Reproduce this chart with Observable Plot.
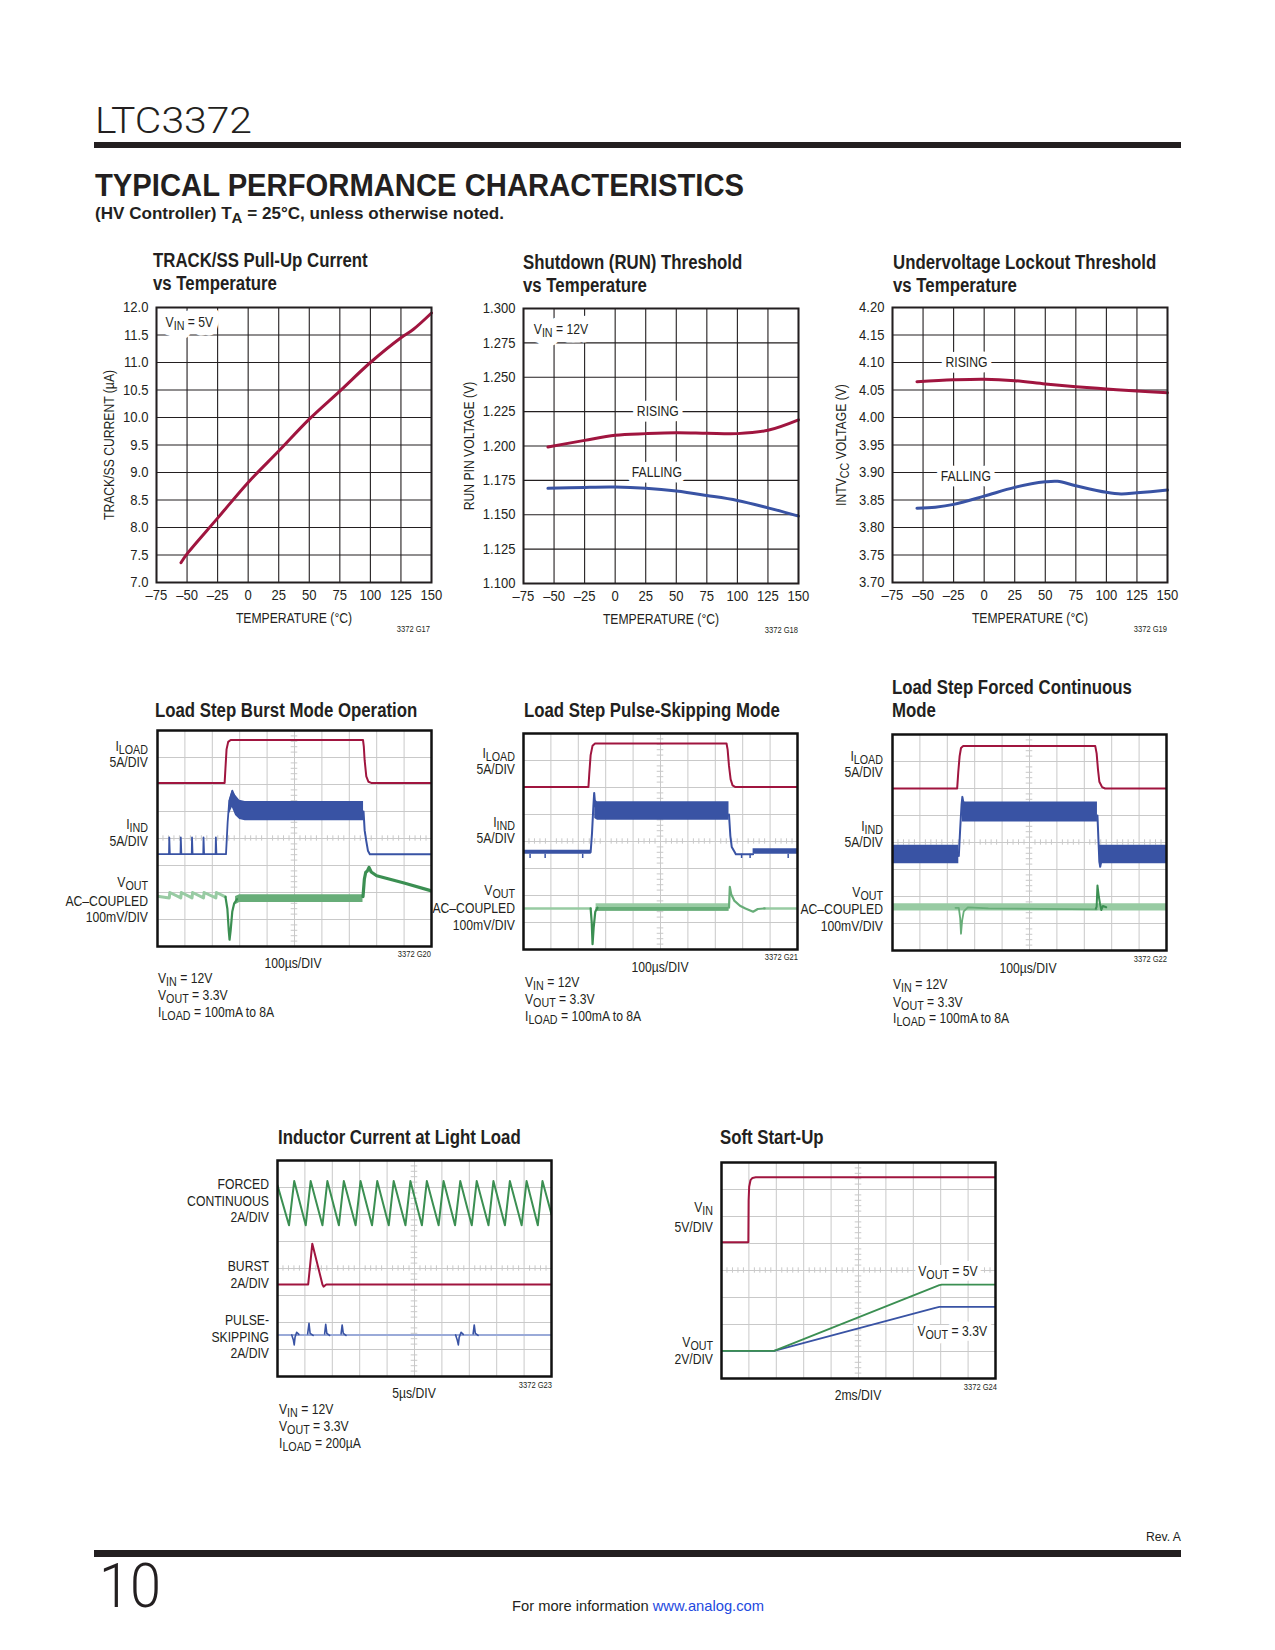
<!DOCTYPE html>
<html lang="en">
<head>
<meta charset="utf-8">
<title>LTC3372 Typical Performance Characteristics</title>
<script src="https://cdn.jsdelivr.net/npm/d3@7"></script>
<script src="https://cdn.jsdelivr.net/npm/@observablehq/plot@0.6"></script>
<style>
html,body{margin:0;padding:0;background:#fff;}
#page{position:relative;width:1275px;height:1650px;overflow:hidden;background:#fff;color:#231f20;font-family:"Liberation Sans Narrow","Liberation Sans",Arial,sans-serif;}
.t{position:absolute;white-space:nowrap;line-height:1;}
.rule{position:absolute;background:#231f20;}
.plotbox{position:absolute;}
.plotbox svg{display:block;max-width:none;background:transparent;overflow:visible;}
</style>
</head>
<body>
<div id="page"></div>
<script>
// ================= DATA =================
const tempTicks = [-75, -50, -25, 0, 25, 50, 75, 100, 125, 150];

// G17 TRACK/SS pull-up current vs temperature
const g17Ticks = [7.0, 7.5, 8.0, 8.5, 9.0, 9.5, 10.0, 10.5, 11.0, 11.5, 12.0];
const g17Temp = [-55, -50, -25, 0, 25, 50, 75, 100, 125, 135, 150];
const g17Current = [7.36, 7.52, 8.17, 8.82, 9.39, 9.97, 10.48, 11.0, 11.45, 11.6, 11.9];
const g17Corner = [{text: "V_IN = 5V", x: -67.6, y: 11.73}];

// G18 Shutdown (RUN) threshold vs temperature
const g18Ticks = [1.100, 1.125, 1.150, 1.175, 1.200, 1.225, 1.250, 1.275, 1.300];
const g18Temp = [-55, -25, 0, 25, 50, 75, 100, 125, 150];
const g18Rising = [1.1993, 1.2041, 1.2078, 1.2090, 1.2097, 1.2093, 1.2090, 1.2114, 1.2190];
const g18Falling = [1.1692, 1.1699, 1.1701, 1.1692, 1.1672, 1.1640, 1.1604, 1.1550, 1.1490];
const g18Corner = [{text: "V_IN = 12V", x: -66.6, y: 1.2852}];
const g18Labels = [{text: "RISING", x: 34.9, y: 1.225}, {text: "FALLING", x: 34.1, y: 1.181}];

// G19 Undervoltage lockout threshold vs temperature
const g19Ticks = [3.70, 3.75, 3.80, 3.85, 3.90, 3.95, 4.00, 4.05, 4.10, 4.15, 4.20];
const g19TempRising = [-55, -25, 0, 25, 50, 75, 100, 125, 150];
const g19Rising = [4.065, 4.0685, 4.0697, 4.067, 4.061, 4.056, 4.052, 4.048, 4.045];
const g19TempFalling = [-55, -40, -25, 0, 25, 50, 60, 75, 100, 112, 125, 150];
const g19Falling = [3.835, 3.837, 3.842, 3.857, 3.873, 3.883, 3.884, 3.876, 3.864, 3.861, 3.863, 3.868];
const g19Labels = [{text: "RISING", x: -14.5, y: 4.10}, {text: "FALLING", x: -15, y: 3.893}];

// Oscilloscope graticule (divisions)
const divX = [1, 2, 3, 4, 5, 6, 7, 8, 9];
const divY = [1, 2, 3, 4, 5, 6, 7];

// G20 Load step Burst Mode operation  [time div, level div]
const burstILoad = [[0,6.06],[2.45,6.06],[2.48,6.6],[2.52,7.3],[2.58,7.58],[2.67,7.65],[7.5,7.65],[7.53,7.4],[7.56,6.9],[7.62,6.3],[7.7,6.1],[7.8,6.06],[10,6.06]];
const burstIInd = [[0,3.42],[0.42,3.42],[0.43,4.04],[0.45,3.42],[0.84,3.42],[0.85,4.04],[0.87,3.42],[1.25,3.42],[1.26,4.04],[1.28,3.42],[1.67,3.42],[1.68,4.04],[1.7,3.42],[2.12,3.42],[2.13,4.04],[2.15,3.42],[2.5,3.42],[2.56,4.6],[2.62,5.4],[2.73,5.77],[2.8,5.6]];
const burstIIndBand = [[2.62,4.9,5.4],[2.73,5.15,5.77],[2.85,4.85,5.6],[3.0,4.7,5.42],[3.2,4.66,5.37],[7.52,4.66,5.37]];
const burstIIndFall = [[7.52,5.0],[7.56,4.3],[7.62,3.9],[7.68,3.55],[7.75,3.42],[10,3.42]];
const burstVoutRipple = [[0,1.86],[0.43,1.8],[0.45,2.0],[0.85,1.8],[0.87,2.0],[1.26,1.8],[1.28,2.0],[1.68,1.8],[1.7,2.0],[2.13,1.8],[2.15,2.0],[2.48,1.84]];
const burstVoutDip = [[2.48,1.84],[2.55,1.4],[2.6,0.6],[2.63,0.25],[2.67,0.6],[2.73,1.3],[2.8,1.6],[2.9,1.75]];
const burstVoutBand = [[2.85,1.55,1.85],[3.0,1.63,1.92],[7.5,1.63,1.92]];
const burstVoutStep = [[7.5,1.85],[7.55,2.5],[7.6,2.75],[7.66,2.8],[7.72,2.93],[7.8,2.76],[8.0,2.62],[9.0,2.35],[10,2.06]];

// G21 Load step pulse-skipping mode
const psILoad = [[0,6.02],[2.37,6.02],[2.4,6.5],[2.45,7.2],[2.52,7.55],[2.61,7.63],[7.41,7.63],[7.45,7.4],[7.5,6.8],[7.56,6.3],[7.63,6.08],[7.72,6.02],[10,6.02]];
const psIIndBase = [[0,3.53,3.68],[2.47,3.53,3.68]];
const psIIndSpikes = [[0.24,3.53,3.37],[0.79,3.53,3.37],[2.16,3.53,3.37],[7.96,3.53,3.37],[8.27,3.53,3.37],[9.66,3.53,3.37]];
const psIIndEdge = [[2.45,3.6],[2.5,4.3],[2.55,5.3],[2.58,5.8],[2.62,5.3]];
const psIIndBand = [[2.6,4.85,5.55],[2.7,4.79,5.47],[7.5,4.79,5.47]];
const psIIndFall = [[7.5,5.0],[7.55,4.2],[7.6,3.8],[7.7,3.62],[7.75,3.53],[8.38,3.53]];
const psIIndBase2 = [[8.38,3.53,3.73],[10,3.53,3.73]];
const psVoutQuiet = [[0,1.52],[2.45,1.52]];
const psVoutQuiet2 = [[8.8,1.52],[10,1.52]];
const psVoutDip = [[2.45,1.52],[2.49,1.0],[2.52,0.2],[2.56,0.8],[2.62,1.4],[2.7,1.55]];
const psVoutBand = [[2.65,1.42,1.69],[7.5,1.42,1.69]];
const psVoutBandLow = [[2.65,1.42,1.56],[7.5,1.42,1.56]];
const psVoutSpike = [[7.5,1.55],[7.53,2.32],[7.58,2.05],[7.7,1.8],[7.9,1.62],[8.1,1.52],[8.38,1.4],[8.55,1.5],[8.8,1.52]];

// G22 Load step forced continuous mode
const fcILoad = [[0,6.0],[2.36,6.0],[2.4,6.6],[2.45,7.2],[2.5,7.5],[2.58,7.57],[7.4,7.57],[7.45,7.3],[7.5,6.7],[7.55,6.25],[7.65,6.05],[7.76,6.0],[10,6.0]];
const fcIIndBand1 = [[0,3.21,3.9],[2.42,3.21,3.9]];
const fcIIndEdge = [[2.42,3.5],[2.47,4.5],[2.52,5.4],[2.55,5.69],[2.6,5.4]];
const fcIIndBand2 = [[2.55,4.76,5.55],[2.65,4.76,5.5],[7.48,4.76,5.5]];
const fcIIndFall = [[7.48,5.0],[7.52,4.0],[7.55,3.3],[7.58,3.1],[7.62,3.3]];
const fcIIndBand3 = [[7.55,3.21,3.9],[10,3.21,3.9]];
const fcVoutBand = [[0,1.46,1.73],[10,1.46,1.73]];
const fcVoutDip = [[2.3,1.58],[2.42,1.58],[2.47,1.2],[2.5,0.62],[2.54,1.1],[2.6,1.45],[2.75,1.6],[3.5,1.56],[7.45,1.52]];
const fcVoutSpike = [[7.42,1.55],[7.45,1.62],[7.48,2.41],[7.53,2.0],[7.57,1.75],[7.62,1.5],[7.68,1.65],[7.8,1.6]];

// G23 Inductor current at light load
const lightForced = [[0,7.08],[0.42,5.6],[0.61,7.24],[1.03,5.6],[1.21,7.24],[1.64,5.6],[1.82,7.24],[2.24,5.6],[2.42,7.24],[2.85,5.6],[3.03,7.24],[3.45,5.6],[3.64,7.24],[4.06,5.6],[4.24,7.24],[4.67,5.6],[4.85,7.24],[5.27,5.6],[5.45,7.24],[5.88,5.6],[6.06,7.24],[6.48,5.6],[6.67,7.24],[7.09,5.6],[7.27,7.24],[7.7,5.6],[7.88,7.24],[8.3,5.6],[8.48,7.24],[8.91,5.6],[9.09,7.24],[9.5,5.6],[9.67,7.24],[10,6.0]];
const lightBurst = [[0,3.41],[1.12,3.41],[1.27,4.92],[1.64,3.41],[1.68,3.33],[1.78,3.41],[10,3.41]];
const lightSkipBase = [[0,1.54],[10,1.54]];
const lightSkipPulses = [
  ["a",0.52,1.54],["a",0.58,1.35],["a",0.61,1.17],["a",0.64,1.45],["a",0.7,1.64],["a",0.78,1.56],
  ["b",1.1,1.58],["b",1.15,1.97],["b",1.19,1.6],["b",1.3,1.52],
  ["c",1.72,1.58],["c",1.76,1.93],["c",1.8,1.6],["c",1.9,1.52],
  ["d",2.32,1.58],["d",2.36,1.91],["d",2.4,1.6],["d",2.5,1.52],
  ["e",6.5,1.54],["e",6.56,1.35],["e",6.6,1.17],["e",6.63,1.45],["e",6.7,1.64],["e",6.78,1.56],
  ["f",7.14,1.58],["f",7.18,1.91],["f",7.22,1.6],["f",7.32,1.52]
];

// G24 Soft start-up
const ssVin = [[0,5.05],[0.98,5.05],[0.99,6.6],[1.01,7.1],[1.06,7.35],[1.13,7.43],[1.25,7.45],[10,7.45]];
const ssVout5 = [[0,1.02],[1.92,1.02],[7.95,3.46],[8.05,3.48],[10,3.48]];
const ssVout33 = [[0,1.02],[1.92,1.02],[7.8,2.62],[7.95,2.65],[10,2.65]];
const ssLabels = [{text: "V_OUT = 5V", x: 7.18, y: 3.97}, {text: "V_OUT = 3.3V", x: 7.15, y: 1.75}];

// ================= STYLE =================
const FONT = '"Liberation Sans Narrow","Liberation Sans",Arial,sans-serif';
const INK = "#231f20";
const RED = "#a0153f";
const BLUE = "#3953a4";
const GREEN = "#3b8f52";
const GREEN_M = "#67ad78";
const GREEN_L = "#98cba3";
const BLUE_L = "#9aaad8";
const GRID = "#c9c9c9";
const NS = "http://www.w3.org/2000/svg";
const CONDENSE = 0.84;
const page = document.getElementById("page");

function subHTML(s) {
  return s.replace(/_([A-Z]+)/g, '<span style="position:relative;top:0.24em;font-size:88%">$1</span>');
}
function subSVG(root) {
  root.querySelectorAll("text").forEach(t => {
    const nodes = t.children.length ? [...t.children] : [t];
    nodes.forEach(node => {
      const s = node.textContent;
      if (!s.includes("_")) return;
      node.textContent = "";
      let shifted = false;
      s.split(/(_[A-Z]+)/).filter(Boolean).forEach(p => {
        const ts = document.createElementNS(NS, "tspan");
        if (p[0] === "_") { ts.textContent = p.slice(1); ts.setAttribute("dy", "3.2"); ts.setAttribute("font-size", "88%"); shifted = true; }
        else { ts.textContent = p; if (shifted) { ts.setAttribute("dy", "-3.2"); shifted = false; } }
        node.appendChild(ts);
      });
    });
  });
}
// narrow the wide fallback face (horizontally only, about each text's anchor)
function condenseSVG(root) {
  root.querySelectorAll("text").forEach(t => {
    const g = t.closest("g[aria-label]");
    const role = g ? g.getAttribute("aria-label") : "";
    const k = /tick label/.test(role) ? 0.9 : CONDENSE;
    const xa = t.getAttribute("x");
    const X = xa && /^-?[\d.]+$/.test(xa) ? +xa : 0;
    const tr = t.getAttribute("transform") || "";
    t.setAttribute("transform", `${tr} translate(${X},0) scale(${k},1) translate(${-X},0)`);
  });
}
function put(html, x, y, {anchor = "start", size = 14.5, weight = 400, family = FONT, color = INK, fit = null} = {}) {
  const d = document.createElement("div");
  d.className = "t";
  Object.assign(d.style, {left: x + "px", top: y + "px", fontSize: size + "px", fontWeight: weight, fontFamily: family, color});
  d.innerHTML = subHTML(html);
  page.appendChild(d);
  const tx = anchor === "start" ? 0 : anchor === "end" ? -100 : -50;
  const sx = fit ? fit / d.getBoundingClientRect().width : CONDENSE;
  d.style.transformOrigin = anchor === "start" ? "left center" : anchor === "end" ? "right center" : "center center";
  d.style.transform = `translate(${tx}%,-50%) scaleX(${sx})`;
  return d;
}
function rule(x, y, w, h) {
  const d = document.createElement("div");
  d.className = "rule";
  Object.assign(d.style, {left: x + "px", top: y + "px", width: w + "px", height: h + "px"});
  page.appendChild(d);
}
function mount(svg, x, y) {
  subSVG(svg);
  condenseSVG(svg);
  const box = document.createElement("div");
  box.className = "plotbox";
  box.style.left = x + "px";
  box.style.top = y + "px";
  box.style.width = svg.getAttribute("width") + "px";
  box.appendChild(svg);
  page.appendChild(box);
}
const fmtTemp = d => d < 0 ? "\u2013" + Math.abs(d) : String(d);
const pairs = (a, b) => d3.zip(a, b);
// halo (white box) under a note, then the note itself
function notes(data, anchor, halo) {
  return [
    Plot.text(data, {x: "x", y: "y", text: "text", textAnchor: anchor, fill: "white", stroke: "white", strokeWidth: halo, fontSize: 14.5}),
    Plot.text(data, {x: "x", y: "y", text: "text", textAnchor: anchor, fill: INK, fontSize: 14.5})
  ];
}

// ================= HEADER =================
put("LTC3372", 94.5, 120.5, {size: 36.5, weight: 300, family: 'Roboto,"Liberation Sans",sans-serif', fit: 157});
rule(94, 142, 1087, 6);
put("TYPICAL PERFORMANCE CHARACTERISTICS", 95, 185, {size: 32, weight: 700, fit: 649});
put("(HV Controller) T_A = 25°C, unless otherwise noted.", 95, 213, {size: 17, weight: 700, fit: 409});

// ================= TEMPERATURE CHARTS =================
function tempChart({left, top, yDomain, yTicks, yFormat, yLabel, yLabelOffset, series, corner = [], labels = []}) {
  const svg = Plot.plot({
    width: 361, height: 340,
    marginLeft: 66, marginRight: 20, marginTop: 7, marginBottom: 58,
    style: {fontFamily: FONT, fontSize: "14.5px", color: INK, background: "transparent", overflow: "visible"},
    x: {domain: [-75, 150]},
    y: {domain: yDomain},
    marks: [
      Plot.ruleX(tempTicks, {stroke: INK, strokeWidth: 1.1}),
      Plot.ruleY(yTicks, {stroke: INK, strokeWidth: 1.1}),
      ...notes(corner, "start", 17),
      ...notes(labels, "middle", 11),
      ...series.map(s => Plot.line(s.data, {x: d => d[0], y: d => d[1], stroke: s.color, strokeWidth: 3, curve: "catmull-rom"})),
      Plot.axisX(tempTicks, {tickSize: 0, tickPadding: 7, tickFormat: fmtTemp, label: "TEMPERATURE (°C)", labelAnchor: "center", labelOffset: 40, labelArrow: "none"}),
      Plot.axisY(yTicks, {tickSize: 0, tickPadding: 8, tickFormat: yFormat, label: yLabel, labelAnchor: "center", labelOffset: yLabelOffset, labelArrow: "none"}),
      Plot.frame({stroke: INK, strokeWidth: 2})
    ]
  });
  mount(svg, left, top);
}

// G17
put("TRACK/SS Pull-Up Current", 153, 260, {size: 20, weight: 700});
put("vs Temperature", 153, 283, {size: 20, weight: 700});
tempChart({left: 90, top: 300, yDomain: [7, 12], yTicks: g17Ticks, yFormat: d3.format(".1f"),
  yLabel: "TRACK/SS CURRENT (µA)", yLabelOffset: 53, corner: g17Corner,
  series: [{data: pairs(g17Temp, g17Current), color: RED}]});
put("3372 G17", 430, 629, {size: 9, anchor: "end"});

// G18
put("Shutdown (RUN) Threshold", 523.3, 261.7, {size: 20, weight: 700});
put("vs Temperature", 523.3, 285, {size: 20, weight: 700});
tempChart({left: 456.7, top: 300.7, yDomain: [1.1, 1.3], yTicks: g18Ticks, yFormat: d3.format(".3f"),
  yLabel: "RUN PIN VOLTAGE (V)", yLabelOffset: 60, corner: g18Corner, labels: g18Labels,
  series: [{data: pairs(g18Temp, g18Rising), color: RED}, {data: pairs(g18Temp, g18Falling), color: BLUE}]});
put("3372 G18", 797.7, 630, {size: 9, anchor: "end"});

// G19
put("Undervoltage Lockout Threshold", 892.7, 261.7, {size: 20, weight: 700});
put("vs Temperature", 892.7, 285, {size: 20, weight: 700});
tempChart({left: 825.7, top: 299.7, yDomain: [3.7, 4.2], yTicks: g19Ticks, yFormat: d3.format(".2f"),
  yLabel: "INTV_CC VOLTAGE (V)", yLabelOffset: 57, labels: g19Labels,
  series: [{data: pairs(g19TempRising, g19Rising), color: RED}, {data: pairs(g19TempFalling, g19Falling), color: BLUE}]});
put("3372 G19", 1166.7, 629.3, {size: 9, anchor: "end"});

// ================= SCOPE CHARTS =================
const L = (c, w) => ({x: d => d[0], y: d => d[1], stroke: c, strokeWidth: w, strokeLinejoin: "round", clip: true});
const A = c => ({x: d => d[0], y1: d => d[1], y2: d => d[2], fill: c, clip: true});
const minorX = d3.range(0.2, 10, 0.2).filter(v => Math.abs(v - Math.round(v)) > 0.01);
const minorY = d3.range(0.2, 8, 0.2).filter(v => Math.abs(v - Math.round(v)) > 0.01);

function scope(left, top, layers, extra = []) {
  const svg = Plot.plot({
    width: 278, height: 220, margin: 2,
    style: {fontFamily: FONT, fontSize: "14.5px", color: INK, background: "transparent", overflow: "visible"},
    x: {domain: [0, 10], axis: null},
    y: {domain: [0, 8], axis: null},
    marks: [
      Plot.ruleX(divX, {stroke: GRID, strokeWidth: 1}),
      Plot.ruleY(divY, {stroke: GRID, strokeWidth: 1}),
      Plot.ruleX(minorX, {x: d => d, y1: 3.9, y2: 4.1, stroke: GRID, strokeWidth: 1}),
      Plot.ruleY(minorY, {y: d => d, x1: 4.88, x2: 5.12, stroke: GRID, strokeWidth: 1}),
      ...extra,
      ...layers,
      Plot.frame({stroke: "#111", strokeWidth: 2.5})
    ]
  });
  mount(svg, left, top);
}

// G20 Burst
put("Load Step Burst Mode Operation", 155, 710, {size: 20, weight: 700});
scope(154.7, 728, [
  Plot.line(burstILoad, L(RED, 2)),
  Plot.line(burstIInd, L(BLUE, 1.8)),
  Plot.areaY(burstIIndBand, A(BLUE)),
  Plot.line(burstIIndFall, L(BLUE, 2)),
  Plot.line(burstVoutRipple, L(GREEN_L, 3)),
  Plot.areaY(burstVoutBand, A(GREEN_M)),
  Plot.line(burstVoutDip, L(GREEN, 2.2)),
  Plot.line(burstVoutStep, L(GREEN, 3.2))
]);
put("I_LOAD", 147.7, 746, {anchor: "end"});
put("5A/DIV", 147.7, 762, {anchor: "end"});
put("I_IND", 147.7, 824, {anchor: "end"});
put("5A/DIV", 147.7, 841, {anchor: "end"});
put("V_OUT", 147.7, 881.5, {anchor: "end"});
put("AC–COUPLED", 147.7, 900.5, {anchor: "end"});
put("100mV/DIV", 147.7, 917, {anchor: "end"});
put("100µs/DIV", 293, 963, {anchor: "middle"});
put("3372 G20", 431, 954, {size: 9, anchor: "end"});
put("V_IN = 12V", 158, 978);
put("V_OUT = 3.3V", 158, 995);
put("I_LOAD = 100mA to 8A", 158, 1012);

// G21 Pulse-skipping
put("Load Step Pulse-Skipping Mode", 524, 710, {size: 20, weight: 700});
scope(521.3, 731.3, [
  Plot.line(psILoad, L(RED, 2)),
  Plot.areaY(psIIndBase, A(BLUE)),
  Plot.ruleX(psIIndSpikes, {x: d => d[0], y1: d => d[1], y2: d => d[2], stroke: BLUE, strokeWidth: 1.5}),
  Plot.line(psIIndEdge, L(BLUE, 2)),
  Plot.areaY(psIIndBand, A(BLUE)),
  Plot.line(psIIndFall, L(BLUE, 2)),
  Plot.areaY(psIIndBase2, A(BLUE)),
  Plot.line(psVoutQuiet, L(GREEN_L, 2.5)),
  Plot.line(psVoutQuiet2, L(GREEN_L, 2.5)),
  Plot.areaY(psVoutBand, A(GREEN_L)),
  Plot.areaY(psVoutBandLow, A(GREEN_M)),
  Plot.line(psVoutDip, L(GREEN, 2.2)),
  Plot.line(psVoutSpike, L(GREEN_M, 2.2))
]);
put("I_LOAD", 515, 753, {anchor: "end"});
put("5A/DIV", 515, 769, {anchor: "end"});
put("I_IND", 515, 822, {anchor: "end"});
put("5A/DIV", 515, 838, {anchor: "end"});
put("V_OUT", 515, 890, {anchor: "end"});
put("AC–COUPLED", 515, 908.2, {anchor: "end"});
put("100mV/DIV", 515, 924.5, {anchor: "end"});
put("100µs/DIV", 660, 966.7, {anchor: "middle"});
put("3372 G21", 797.7, 957, {size: 9, anchor: "end"});
put("V_IN = 12V", 525, 982);
put("V_OUT = 3.3V", 525, 999);
put("I_LOAD = 100mA to 8A", 525, 1016);

// G22 Forced continuous
put("Load Step Forced Continuous", 891.7, 686.7, {size: 20, weight: 700});
put("Mode", 891.7, 710, {size: 20, weight: 700});
scope(889.7, 732.3, [
  Plot.line(fcILoad, L(RED, 2)),
  Plot.areaY(fcIIndBand1, A(BLUE)),
  Plot.line(fcIIndEdge, L(BLUE, 2)),
  Plot.areaY(fcIIndBand2, A(BLUE)),
  Plot.line(fcIIndFall, L(BLUE, 2)),
  Plot.areaY(fcIIndBand3, A(BLUE)),
  Plot.areaY(fcVoutBand, A(GREEN_L)),
  Plot.line(fcVoutDip, L(GREEN_M, 1.8)),
  Plot.line(fcVoutSpike, L(GREEN, 2))
]);
put("I_LOAD", 883.3, 756, {anchor: "end"});
put("5A/DIV", 883.3, 772, {anchor: "end"});
put("I_IND", 883.3, 826, {anchor: "end"});
put("5A/DIV", 883.3, 842, {anchor: "end"});
put("V_OUT", 883.3, 891.5, {anchor: "end"});
put("AC–COUPLED", 883.3, 909, {anchor: "end"});
put("100mV/DIV", 883.3, 925.5, {anchor: "end"});
put("100µs/DIV", 1028, 967.7, {anchor: "middle"});
put("3372 G22", 1166.7, 959, {size: 9, anchor: "end"});
put("V_IN = 12V", 893.3, 984);
put("V_OUT = 3.3V", 893.3, 1001.7);
put("I_LOAD = 100mA to 8A", 893.3, 1018.3);

// G23 Light load
put("Inductor Current at Light Load", 278, 1136.7, {size: 20, weight: 700});
scope(274.7, 1158, [
  Plot.line(lightForced, L(GREEN, 2)),
  Plot.line(lightBurst, L(RED, 2)),
  Plot.line(lightSkipBase, L(BLUE_L, 2)),
  Plot.line(lightSkipPulses, {x: d => d[1], y: d => d[2], z: d => d[0], stroke: BLUE, strokeWidth: 1.6, clip: true})
]);
put("FORCED", 269, 1184, {anchor: "end"});
put("CONTINUOUS", 269, 1200.7, {anchor: "end"});
put("2A/DIV", 269, 1217, {anchor: "end"});
put("BURST", 269, 1266, {anchor: "end"});
put("2A/DIV", 269, 1282.7, {anchor: "end"});
put("PULSE-", 269, 1320, {anchor: "end"});
put("SKIPPING", 269, 1336.7, {anchor: "end"});
put("2A/DIV", 269, 1353, {anchor: "end"});
put("5µs/DIV", 414, 1392.7, {anchor: "middle"});
put("3372 G23", 551.7, 1385, {size: 9, anchor: "end"});
put("V_IN = 12V", 279, 1409);
put("V_OUT = 3.3V", 279, 1426);
put("I_LOAD = 200µA", 279, 1443);

// G24 Soft start
put("Soft Start-Up", 720, 1136.7, {size: 20, weight: 700});
scope(718.7, 1159.7, [
  Plot.line(ssVin, L(RED, 2)),
  Plot.line(ssVout33, L(BLUE, 1.8)),
  Plot.line(ssVout5, L(GREEN, 1.8))
], notes(ssLabels, "start", 10));
put("V_IN", 712.7, 1207, {anchor: "end"});
put("5V/DIV", 712.7, 1226.7, {anchor: "end"});
put("V_OUT", 712.7, 1342, {anchor: "end"});
put("2V/DIV", 712.7, 1359, {anchor: "end"});
put("2ms/DIV", 858, 1395, {anchor: "middle"});
put("3372 G24", 996.7, 1386.7, {size: 9, anchor: "end"});

// ================= FOOTER =================
put("Rev. A", 1181, 1537, {size: 12.5, anchor: "end", fit: 35});
rule(94, 1550, 1087, 6.5);
put("10", 99, 1585.5, {size: 61, weight: 300, family: 'Roboto,"Liberation Sans",sans-serif', fit: 62});
put('For more information <span style="color:#2249e0">www.analog.com</span>', 512, 1605, {size: 15, fit: 252});
</script>
</body>
</html>
